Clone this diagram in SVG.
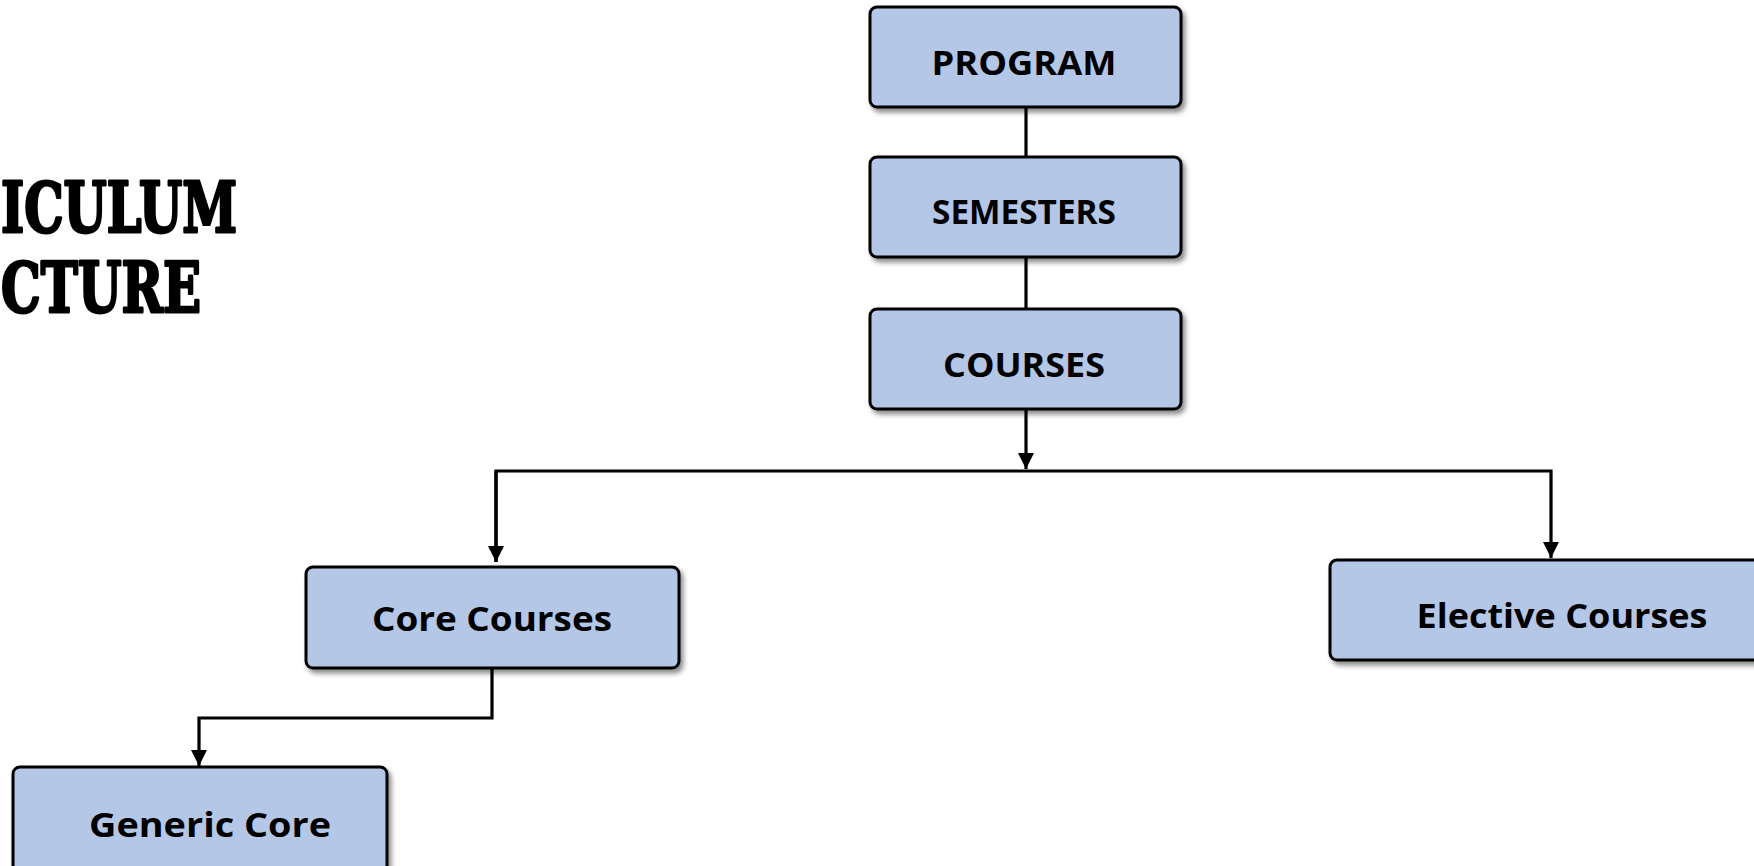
<svg xmlns="http://www.w3.org/2000/svg" width="1754" height="866" viewBox="0 0 1754 866">
<defs>
<filter id="sh" x="-10%" y="-20%" width="125%" height="150%">
<feDropShadow dx="3" dy="4" stdDeviation="2.5" flood-color="#000" flood-opacity="0.45"/>
</filter>
<marker id="ah" viewBox="0 0 10 10" refX="10" refY="5" markerWidth="5" markerHeight="5" markerUnits="strokeWidth" orient="auto">
<path d="M0,0 L10,5 L0,10 Z" fill="#000"/>
</marker>
<style>
.box{fill:#B4C7E7;stroke:#000;stroke-width:3;filter:url(#sh)}
.lbl{font-family:"Open Sans","Lato","DejaVu Sans",sans-serif;font-weight:bold;font-size:34px;fill:#000;text-anchor:middle}
.title{font-family:"DejaVu Serif","Liberation Serif",serif;font-weight:bold;font-size:70px;fill:#000;stroke:#000;stroke-width:3;stroke-linejoin:round;text-anchor:end}
.con{fill:none;stroke:#000;stroke-width:3.2}
</style>
</defs>
<g id="title">
<text class="title" x="237" y="232" textLength="236" lengthAdjust="spacingAndGlyphs">ICULUM</text>
<text class="title" x="201" y="312" textLength="200" lengthAdjust="spacingAndGlyphs">CTURE</text>
</g>
<g id="connectors">
<path class="con" d="M1026,107 V157"/>
<path class="con" d="M1026,257 V309"/>
<path class="con" d="M1026,409 V469" marker-end="url(#ah)"/>
<path class="con" d="M496,562 V471 H1551 V558" marker-end="url(#ah)"/>
<path class="con" d="M496,471 V562" marker-end="url(#ah)"/>
<path class="con" d="M492,668 V718 H199 V766" marker-end="url(#ah)"/>
</g>
<g id="program">
<rect class="box" x="870" y="7" width="311" height="100" rx="7"/>
<text class="lbl" x="1024" y="75" textLength="185" lengthAdjust="spacingAndGlyphs">PROGRAM</text>
</g>
<g id="semesters">
<rect class="box" x="870" y="157" width="311" height="100" rx="7"/>
<text class="lbl" x="1024" y="224" textLength="184" lengthAdjust="spacingAndGlyphs">SEMESTERS</text>
</g>
<g id="courses">
<rect class="box" x="870" y="309" width="311" height="100" rx="7"/>
<text class="lbl" x="1024" y="377" textLength="162" lengthAdjust="spacingAndGlyphs">COURSES</text>
</g>
<g id="core">
<rect class="box" x="306" y="567" width="373" height="101" rx="7"/>
<text class="lbl" x="492" y="631" textLength="240" lengthAdjust="spacingAndGlyphs">Core Courses</text>
</g>
<g id="elective">
<rect class="box" x="1330" y="560" width="464" height="100" rx="7"/>
<text class="lbl" x="1562" y="628" textLength="291" lengthAdjust="spacingAndGlyphs">Elective Courses</text>
</g>
<g id="generic">
<rect class="box" x="13" y="767" width="374" height="110" rx="7"/>
<text class="lbl" x="210" y="837" textLength="242" lengthAdjust="spacingAndGlyphs">Generic Core</text>
</g>
</svg>
